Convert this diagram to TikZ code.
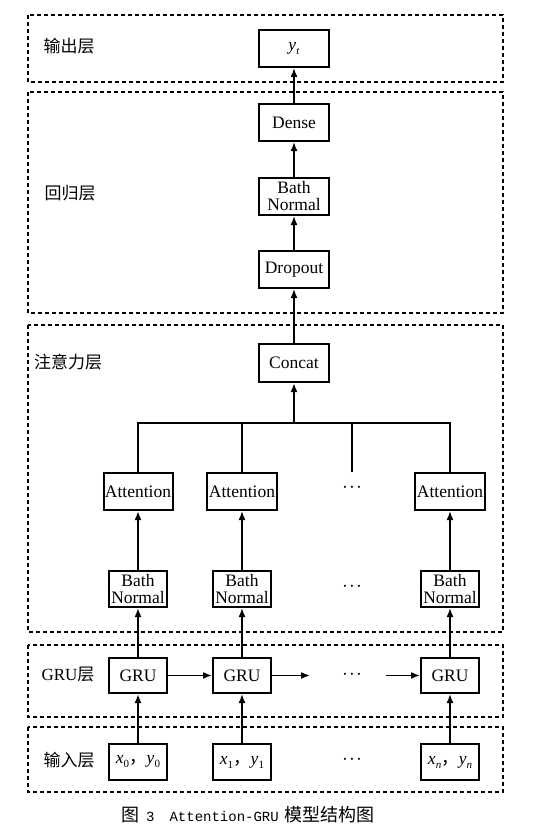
\documentclass[tikz,border=0pt]{standalone}
\usepackage{fontspec}
\setmainfont{Liberation Serif}
\setmonofont{Liberation Mono}
\newfontfamily\cjk{Noto Sans CJK SC}
\usetikzlibrary{arrows.meta}
\newcommand\lowsub[1]{\raisebox{-4pt}{\fontsize{11}{11}\selectfont #1}}
\newcommand\tightdots{$\cdot\mkern-3mu\cdot\mkern-3mu\cdot$}
\begin{document}
\begin{tikzpicture}[x=1pt,y=-1pt,
 box/.style={draw, line width=2pt, inner sep=0pt, font=\fontsize{17.5}{17}\selectfont, align=center},
 layer/.style={draw, line width=2pt, dash pattern=on 4pt off 3pt},
 tip/.style={-{Latex[length=9pt,width=7pt]}},
 arr/.style={line width=1.6pt, tip},
 ln/.style={line width=1.6pt},
 bus/.style={line width=2.4pt},
 lab/.style={font=\cjk\fontsize{17}{17}\selectfont, inner sep=0pt},
 dots/.style={font=\fontsize{22}{22}\selectfont, inner sep=0pt}]
\useasboundingbox (0,0) rectangle (555,840);
\fill[white] (0,0) rectangle (555,840);
% layers
\draw[layer] (28,15) rectangle (503,82);
\draw[layer] (28,92) rectangle (503,313);
\draw[layer] (28,325) rectangle (503,632);
\draw[layer] (28,645) rectangle (503,717);
\draw[layer] (28,727) rectangle (503,792);
% layer labels
\node[lab] (l1) at (69,46) {输出层};
\node[lab] (l2) at (70,193) {回归层};
\node[lab] (l3) at (68,362) {注意力层};
\node[lab] (l4) at (68,675) {{\fontspec{Liberation Serif}GRU}层};
\node[lab] (l5) at (69,760) {输入层};
% top column
\node[box, minimum width=70pt, minimum height=37pt] (yt) at (294,48.5) {\textit{y}\lowsub{\textit{t}}};
\node[box, minimum width=70pt, minimum height=37pt] (dense) at (294,122.5) {Dense};
\node[box, minimum width=70pt, minimum height=37pt] (bn0) at (294,196.5) {Bath\\Normal};
\node[box, minimum width=70pt, minimum height=37pt] (drop) at (294,269.5) {Dropout};
\node[box, minimum width=70pt, minimum height=38pt] (concat) at (294,363) {Concat};
% attention row
\node[box, minimum width=69pt, minimum height=37pt] (att1) at (138,491.5) {Attention};
\node[box, minimum width=70pt, minimum height=37pt] (att2) at (242,491.5) {Attention};
\node[dots] (attd) at (352,488) {\tightdots};
\node[box, minimum width=70pt, minimum height=37pt] (att3) at (450,491.5) {Attention};
% bath normal row
\node[box, minimum width=58pt, minimum height=36pt] (bn1) at (138,589) {Bath\\Normal};
\node[box, minimum width=58pt, minimum height=36pt] (bn2) at (242,589) {Bath\\Normal};
\node[dots] (bnd) at (352,587) {\tightdots};
\node[box, minimum width=58pt, minimum height=36pt] (bn3) at (450,589) {Bath\\Normal};
% GRU row
\node[box, minimum width=58pt, minimum height=35pt] (gru1) at (138,675.5) {GRU};
\node[box, minimum width=58pt, minimum height=35pt] (gru2) at (242,675.5) {GRU};
\node[dots] (grud) at (352,675) {\tightdots};
\node[box, minimum width=58pt, minimum height=35pt] (gru3) at (450,675.5) {GRU};
% input row
\node[box, minimum width=58pt, minimum height=36pt] (in1) at (138,762) {\textit{x}\lowsub{0}{\cjk ，}\textit{y}\lowsub{0}};
\node[box, minimum width=58pt, minimum height=36pt] (in2) at (242,762) {\textit{x}\lowsub{1}{\cjk ，}\textit{y}\lowsub{1}};
\node[dots] (ind) at (352,760) {\tightdots};
\node[box, minimum width=58pt, minimum height=36pt] (in3) at (450,762) {\textit{x}\lowsub{\textit{n}}{\cjk ，}\textit{y}\lowsub{\textit{n}}};
% coordinates
\coordinate (b1) at (138,423);
\coordinate (b2) at (242,423);
\coordinate (bm) at (294,423);
\coordinate (bd) at (352,423);
\coordinate (bdend) at (352,472);
\coordinate (b3) at (450,423);
\coordinate (g2end) at (310,675.5);
\coordinate (g3start) at (386,675.5);
% connectors
\draw[arr] (dense) -- (yt);
\draw[arr] (bn0) -- (dense);
\draw[arr] (drop) -- (bn0);
\draw[arr] (concat) -- (drop);
\draw[bus] (att1.north) -- (b1) -- (b3) -- (att3.north);
\draw[ln] (att2.north) -- (b2);
\draw[ln] (bdend) -- (bd);
\draw[bus, tip] (bm) -- (concat.south);
\draw[bus, tip] (bn1) -- (att1);
\draw[arr] (bn2) -- (att2);
\draw[arr] (bn3) -- (att3);
\draw[bus, tip] (gru1) -- (bn1);
\draw[arr] (gru2) -- (bn2);
\draw[arr] (gru3) -- (bn3);
\draw[bus, tip] (in1) -- (gru1);
\draw[arr] (in2) -- (gru2);
\draw[arr] (in3) -- (gru3);
\draw[arr] (gru1) -- (gru2);
\draw[arr] (gru2) -- (g2end);
\draw[arr] (g3start) -- (gru3);
% caption
\node[inner sep=0pt, anchor=west] (cap) at (121,815) {{\cjk\fontsize{18}{18}\selectfont 图}\hspace{7pt}{\ttfamily\fontsize{14}{14}\selectfont 3}\hspace{15pt}{\ttfamily\fontsize{14}{14}\selectfont Attention-GRU}\hspace{6pt}{\cjk\fontsize{18}{18}\selectfont 模型结构图}};
\end{tikzpicture}
\end{document}
